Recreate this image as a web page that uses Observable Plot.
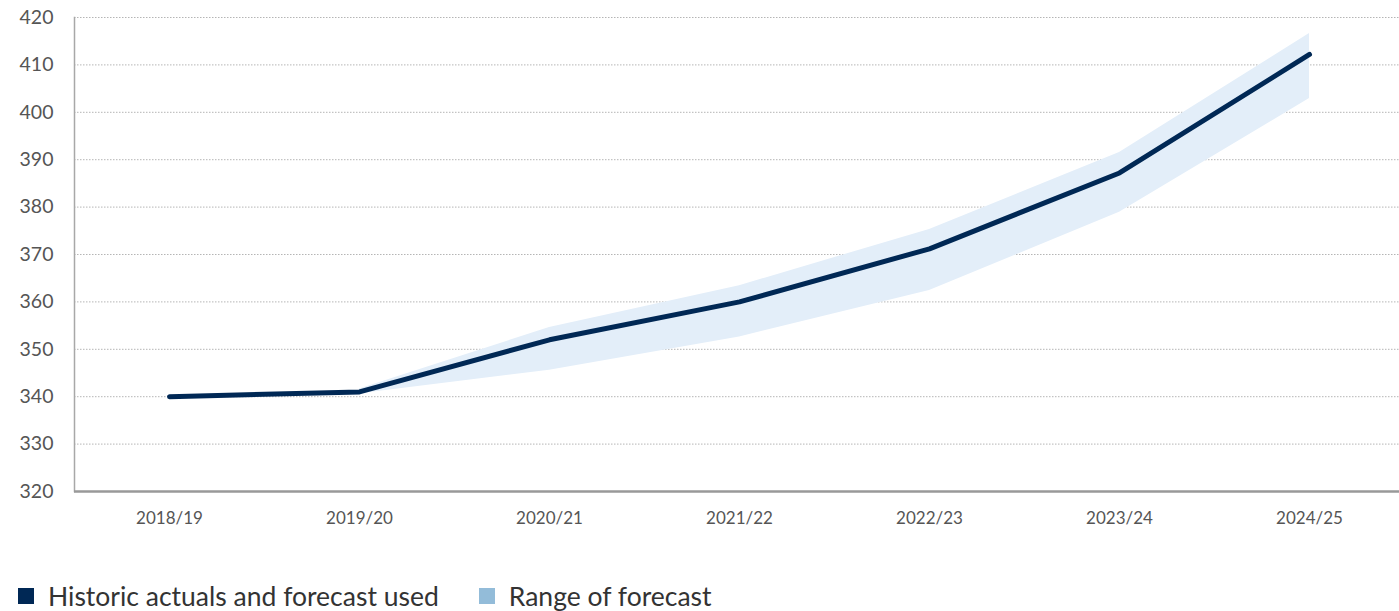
<!DOCTYPE html>
<html>
<head>
<meta charset="utf-8">
<script src="https://cdn.jsdelivr.net/npm/d3@7"></script>
<script src="https://cdn.jsdelivr.net/npm/@observablehq/plot@0.6"></script>
<style>
  html, body { margin: 0; padding: 0; background: #fff; overflow: hidden; }
  #chart { width: 1399px; }
  .legend { display: flex; align-items: center; font-family: Lato, "Open Sans", sans-serif; font-size: 26.5px; color: #333; margin-top: 30px; padding-left: 18px; }
  .legend .item { display: flex; align-items: center; margin-right: 40px; }
  .legend .sw { width: 16px; height: 16px; margin-right: 14px; display: inline-block; }
</style>
</head>
<body>
<div id="chart"></div>
<script>
const years = ["2018/19", "2019/20", "2020/21", "2021/22", "2022/23", "2023/24", "2024/25"];
const actual = [340, 341, 352, 360, 371.2, 387.2, 412.2];
const rangeYears = ["2019/20", "2020/21", "2021/22", "2022/23", "2023/24", "2024/25"];
const rangeLow = [340.6, 345.6, 352.6, 362.4, 378.9, 402.9];
const rangeHigh = [341.6, 354.6, 363.4, 375.3, 391.5, 416.6];
const yTicks = [320, 330, 340, 350, 360, 370, 380, 390, 400, 410, 420];
const legendLabels = ["Historic actuals and forecast used", "Range of forecast"];
const legendColors = ["#002855", "#93bcd9"];

const lineData = years.map((y, i) => ({ year: y, value: actual[i] }));
const bandData = rangeYears.map((y, i) => ({ year: y, low: rangeLow[i], high: rangeHigh[i] }));

const chart = Plot.plot({
  width: 1399,
  height: 550,
  marginLeft: 74,
  marginRight: 0,
  marginTop: 17,
  marginBottom: 59,
  style: { fontFamily: "Lato, 'Open Sans', sans-serif", fontSize: "17px", color: "#555", background: "#fff" },
  x: { type: "point", domain: years, range: [168, 1310], padding: 0 },
  y: { domain: [320, 420] },
  marks: [
    Plot.gridY(yTicks, { stroke: "#b5b5b5", strokeOpacity: 1, strokeDasharray: "1.5,1.5", strokeWidth: 1 }),
    Plot.areaY(bandData, { x: "year", y1: "low", y2: "high", fill: "#e3eef9", curve: "linear" }),
    Plot.line(lineData, { x: "year", y: "value", stroke: "#002855", strokeWidth: 5, strokeLinecap: "round", strokeLinejoin: "round" }),
    Plot.frame({ anchor: "left", stroke: "#a8a8a8", strokeWidth: 1.5 }),
    Plot.ruleY([320], { stroke: "#999", strokeWidth: 2.5 }),
    Plot.axisY({ ticks: yTicks, tickSize: 0, tickPadding: 21, fill: "#555", label: null, fontSize: 19.5 }),
    Plot.axisX({ tickSize: 0, tickPadding: 20, fill: "#555", label: null, fontSize: 17 })
  ]
});
document.getElementById("chart").appendChild(chart);

const legend = document.createElement("div");
legend.className = "legend";
legendLabels.forEach((t, i) => {
  const item = document.createElement("span");
  item.className = "item";
  const sw = document.createElement("span");
  sw.className = "sw";
  sw.style.background = legendColors[i];
  item.appendChild(sw);
  item.appendChild(document.createTextNode(t));
  legend.appendChild(item);
});
document.body.appendChild(legend);
</script>
</body>
</html>
